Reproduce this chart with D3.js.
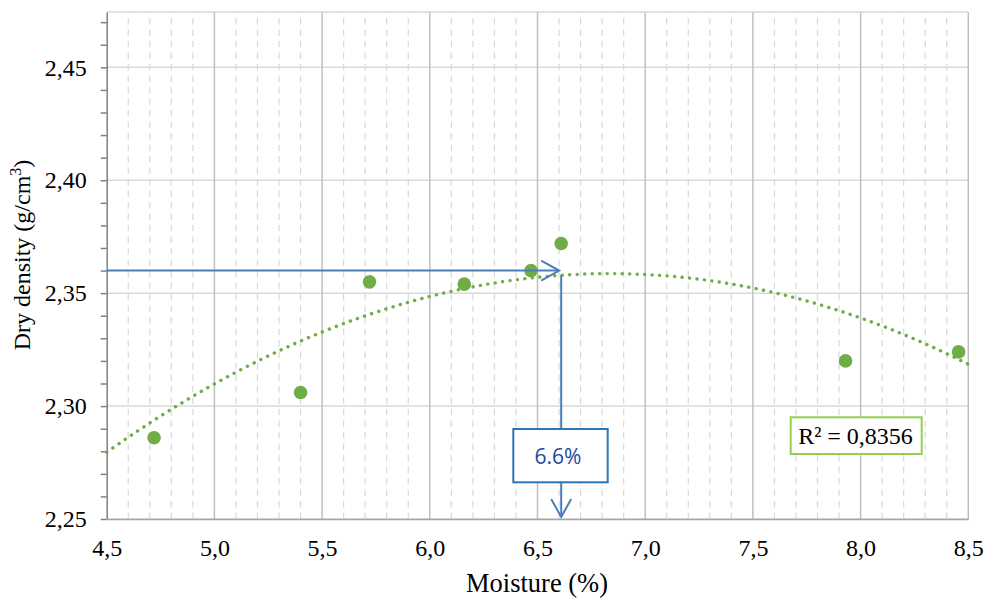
<!DOCTYPE html>
<html><head><meta charset="utf-8">
<script src="https://cdn.jsdelivr.net/npm/d3@7"></script>
<style>body{margin:0;background:#fff}svg{display:block}</style>
</head><body>
<script>
const moisture = [4.72, 5.40, 5.72, 6.16, 6.47, 6.61, 7.93, 8.455];
const density  = [2.286, 2.306, 2.355, 2.354, 2.360, 2.372, 2.320, 2.324];
const xTicks = [4.5, 5.0, 5.5, 6.0, 6.5, 7.0, 7.5, 8.0, 8.5];
const yTicks = [2.25, 2.30, 2.35, 2.40, 2.45];
// polynomial (order 2) trendline coefficients: c0 + c1*x + c2*x^2
const trendCoef = [1.6811, 0.19824, -0.0145];
const optMoisture = 6.61, optDensity = 2.36, optLabel = "6.6%";
const r2Label = "R² = 0,8356";

const W = 985, H = 599;
const m = {l: 106.7, r: W - 968.3, t: 12, b: H - 519};
const svg = d3.select("body").append("svg").attr("width", W).attr("height", H);
const x = d3.scaleLinear().domain([4.5, 8.5]).range([m.l, W - m.r]);
const y = d3.scaleLinear().domain([2.25, 2.4745]).range([H - m.b, m.t]);
const fmt = d => d3.format(".2f")(d).replace(".", ",");
const fmtX = d => d3.format(".1f")(d).replace(".", ",");
const serif = "Liberation Serif, Times New Roman, serif";

// minor vertical dashed grid
const minorX = d3.range(4.6, 8.5, 0.1).filter(v => Math.abs(v*2 - Math.round(v*2)) > 0.01);
svg.append("g").selectAll("line").data(minorX).join("line")
  .attr("x1", d => x(d)).attr("x2", d => x(d)).attr("y1", y(2.25)).attr("y2", m.t)
  .attr("stroke", "#d9d9d9").attr("stroke-width", 1.2).attr("stroke-dasharray", "6.5 5");
// horizontal grid
svg.append("g").selectAll("line").data(yTicks).join("line")
  .attr("x1", m.l).attr("x2", W - m.r).attr("y1", d => y(d)).attr("y2", d => y(d))
  .attr("stroke", "#d9d9d9").attr("stroke-width", 1.5);
// vertical major grid
svg.append("g").selectAll("line").data(xTicks.slice(1)).join("line")
  .attr("x1", d => x(d)).attr("x2", d => x(d)).attr("y1", y(2.25)).attr("y2", m.t)
  .attr("stroke", "#bfbfbf").attr("stroke-width", 1.5);
svg.append("line").attr("x1", m.l).attr("x2", W - m.r).attr("y1", m.t).attr("y2", m.t)
  .attr("stroke", "#d9d9d9").attr("stroke-width", 1.5);

// x axis
const xAxis = svg.append("g").attr("transform", `translate(0,${y(2.25)})`)
  .call(d3.axisBottom(x).tickValues(xTicks).tickFormat(fmtX).tickSize(0).tickPadding(20));
xAxis.attr("font-family", serif);
xAxis.select(".domain").attr("stroke", "#a6a6a6").attr("stroke-width", 1.5);
xAxis.selectAll("text").attr("font-family", serif).attr("font-size", 24).attr("fill", "#000");

// y axis
const yAxis = svg.append("g").attr("transform", `translate(${m.l},0)`)
  .call(d3.axisLeft(y).tickValues(d3.range(2.25, 2.4705, 0.01)).tickSize(6).tickSizeOuter(0)
    .tickFormat(d => yTicks.some(t => Math.abs(t - d) < 1e-6) ? fmt(d) : ""));
yAxis.attr("font-family", serif);
yAxis.select(".domain").attr("stroke", "#808080").attr("stroke-width", 1.5);
yAxis.selectAll("line").attr("stroke", "#808080").attr("stroke-width", 1.5);
yAxis.selectAll("text").attr("font-family", serif).attr("font-size", 24).attr("fill", "#000").attr("dx", -11);

// trendline
const f = v => trendCoef[0] + trendCoef[1] * v + trendCoef[2] * v * v;
const curve = d3.range(4.5, 8.5001, 0.02).map(v => [v, f(v)]);
svg.append("path").datum(curve)
  .attr("d", d3.line().x(d => x(d[0])).y(d => y(d[1])))
  .attr("fill", "none").attr("stroke", "#70ad47").attr("stroke-width", 3.4)
  .attr("stroke-linecap", "round").attr("stroke-dasharray", "0.1 7.4");

// points
svg.append("g").selectAll("circle").data(moisture).join("circle")
  .attr("cx", d => x(d)).attr("cy", (d, i) => y(density[i])).attr("r", 6.8).attr("fill", "#70ad47");

// arrows
const blue = "#4a7ebb";
const ax = x(optMoisture), ay = y(optDensity), ty = y(f(optMoisture));
svg.append("line").attr("x1", m.l).attr("x2", ax - 3).attr("y1", ay).attr("y2", ay)
  .attr("stroke", blue).attr("stroke-width", 2);
svg.append("path").attr("d", `M${ax - 20},${ay - 10} L${ax - 2},${ay} L${ax - 20},${ay + 10}`)
  .attr("fill", "none").attr("stroke", blue).attr("stroke-width", 2);
const boxTop = 429, boxBot = 482.3;
svg.append("line").attr("x1", ax).attr("x2", ax).attr("y1", ty).attr("y2", boxTop)
  .attr("stroke", blue).attr("stroke-width", 2);
svg.append("line").attr("x1", ax).attr("x2", ax).attr("y1", boxBot).attr("y2", y(2.25) - 2)
  .attr("stroke", blue).attr("stroke-width", 2);
svg.append("path").attr("d", `M${ax - 10},${y(2.25) - 20} L${ax},${y(2.25) - 2} L${ax + 10},${y(2.25) - 20}`)
  .attr("fill", "none").attr("stroke", blue).attr("stroke-width", 2);
svg.append("rect").attr("x", 513.3).attr("y", boxTop).attr("width", 94.4).attr("height", boxBot - boxTop)
  .attr("fill", "#fff").attr("stroke", "#2e75b6").attr("stroke-width", 2);
svg.append("text").attr("x", 558).attr("y", 464).attr("text-anchor", "middle")
  .attr("font-family", "Open Sans, Liberation Sans, sans-serif").attr("font-size", 21).attr("fill", "#1c48a0").text(optLabel);

// R2 box
svg.append("rect").attr("x", 790.7).attr("y", 417.3).attr("width", 131).attr("height", 36.7)
  .attr("fill", "#fff").attr("stroke", "#92d050").attr("stroke-width", 2);
svg.append("text").attr("x", 855.5).attr("y", 444).attr("text-anchor", "middle")
  .attr("font-family", serif).attr("font-size", 24).attr("fill", "#000").text(r2Label);

// axis titles
svg.append("text").attr("x", 537).attr("y", 592).attr("text-anchor", "middle")
  .attr("font-family", serif).attr("font-size", 26.5).attr("fill", "#000").text("Moisture (%)");
const yt = svg.append("text").attr("transform", `translate(30,255) rotate(-90)`).attr("text-anchor", "middle")
  .attr("font-family", serif).attr("font-size", 24).attr("fill", "#000");
yt.append("tspan").text("Dry density (g/cm");
yt.append("tspan").attr("dy", -9).attr("font-size", 16).text("3");
yt.append("tspan").attr("dy", 9).text(")");
</script>
</body></html>
